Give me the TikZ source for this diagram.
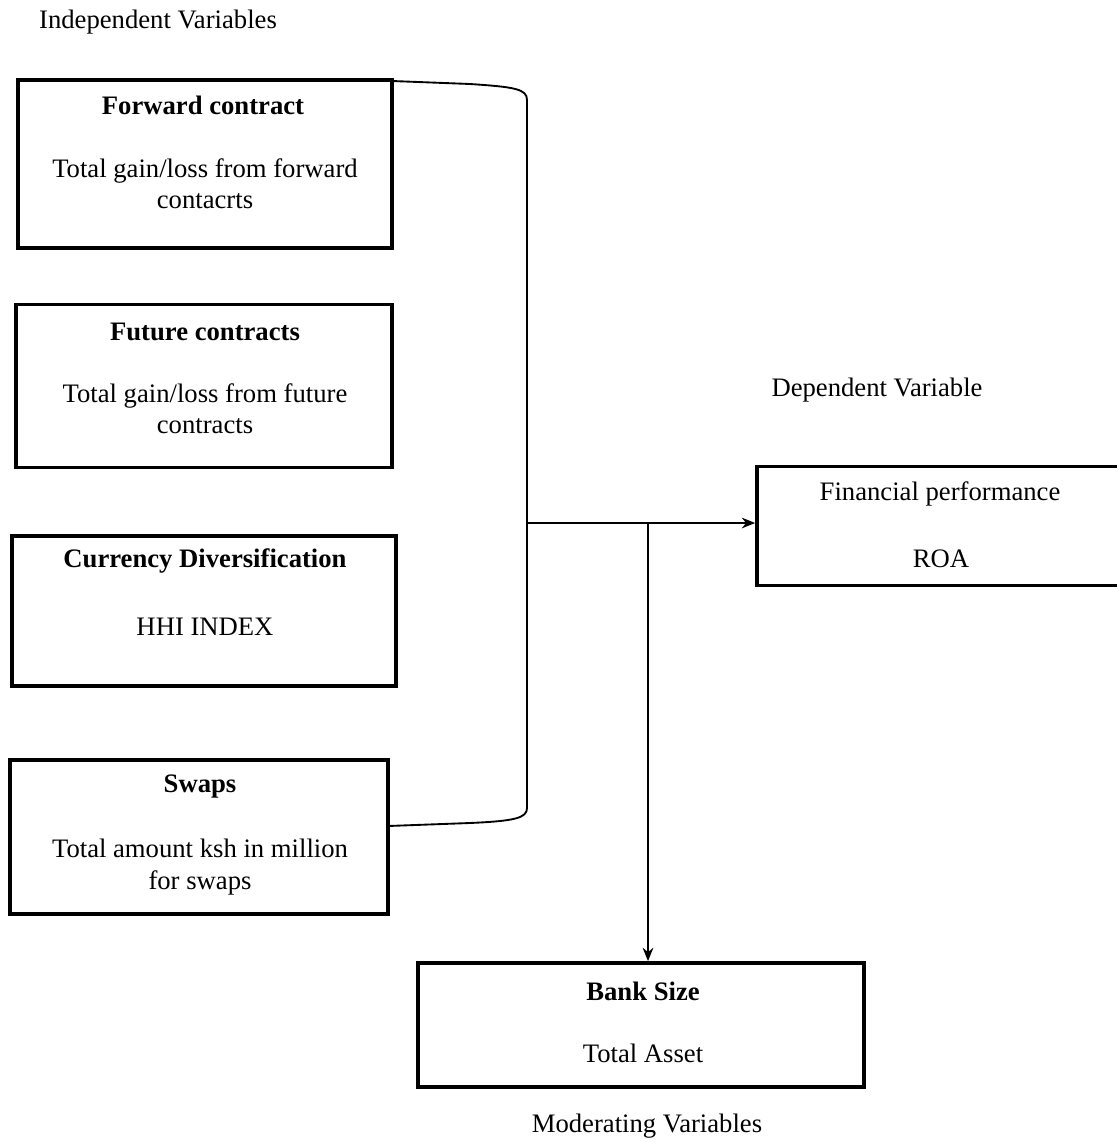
\documentclass[tikz,border=0pt]{standalone}
\usepackage{fontspec}
\setmainfont{Liberation Serif}
\usetikzlibrary{arrows.meta}
\begin{document}
\begin{tikzpicture}[x=0.75pt,y=-0.75pt,
	varbox/.style={draw,line width=2.8pt,inner sep=0pt},
	lbl/.style={font=\fontsize{20}{23.5}\selectfont,align=center,inner sep=0pt},
	ttl/.style={lbl,font=\fontsize{20}{23.5}\selectfont\bfseries},
	link/.style={line width=1.4pt}]
			\useasboundingbox (0,0) rectangle (1117,1142);
			% independent variables
			\node[lbl] (indep) at (158,22) {Independent Variables};
			\node[varbox,minimum width=374pt*0.75,minimum height=168pt*0.75] (fwd) at (205,164) {};
			\draw (203,105) node[ttl] {Forward contract};
			\draw (205,184) node[lbl] {Total gain/loss from forward\\contacrts};
			
			\node[varbox,minimum width=376pt*0.75,minimum height=163pt*0.75] (fut) at (204,386) {};
			\draw (205,332) node[ttl] {Future contracts};
			\draw (205,409) node[lbl] {Total gain/loss from future\\contracts};
			
			\node[varbox,minimum width=384pt*0.75,minimum height=150pt*0.75] (cur) at (204,611) {};
			\draw (205,561) node[ttl] {Currency Diversification};
			\draw (205,627) node[lbl] {HHI INDEX};
			
			\node[varbox,minimum width=378pt*0.75,minimum height=154pt*0.75] (swp) at (199,837) {};
			\draw (200,786) node[ttl] {Swaps};
			\draw (200,867) node[lbl] {Total amount ksh in million\\for swaps};
			
			% dependent and moderating variables
			\node[lbl] (dep) at (877,390) {Dependent Variable};
			\node[varbox,minimum width=368pt*0.75,minimum height=119pt*0.75] (perf) at (941,526) {};
			\draw (940,494) node[lbl] {Financial performance};
			\draw (941,559) node[lbl] {ROA};
			
			\node[varbox,minimum width=446pt*0.75,minimum height=124pt*0.75] (size) at (641,1025) {};
			\draw (643,991) node[ttl] {Bank Size};
			\draw (643,1053) node[lbl] {Total Asset};
			\node[lbl] (mod) at (647,1126) {Moderating Variables};
			
			% bracket and arrows
			\coordinate (top) at (392,81);
			\coordinate (bot) at (388,826);
			\coordinate (join) at (527,523);
			\coordinate (split) at (648,523);
			\draw[link] (top) -- (470,84) .. controls (515,87) and (527,89) .. (527,100)
				-- (527,808) .. controls (527,818) and (515,821) .. (470,823) -- (bot);
			\draw[link,-{Stealth[length=10pt,width=8pt]}] (join) -- (join -| perf.west);
			\draw[link,-{Stealth[length=10pt,width=8pt]}] (split) -- (split |- size.north);
		\end{tikzpicture}
\end{document}
